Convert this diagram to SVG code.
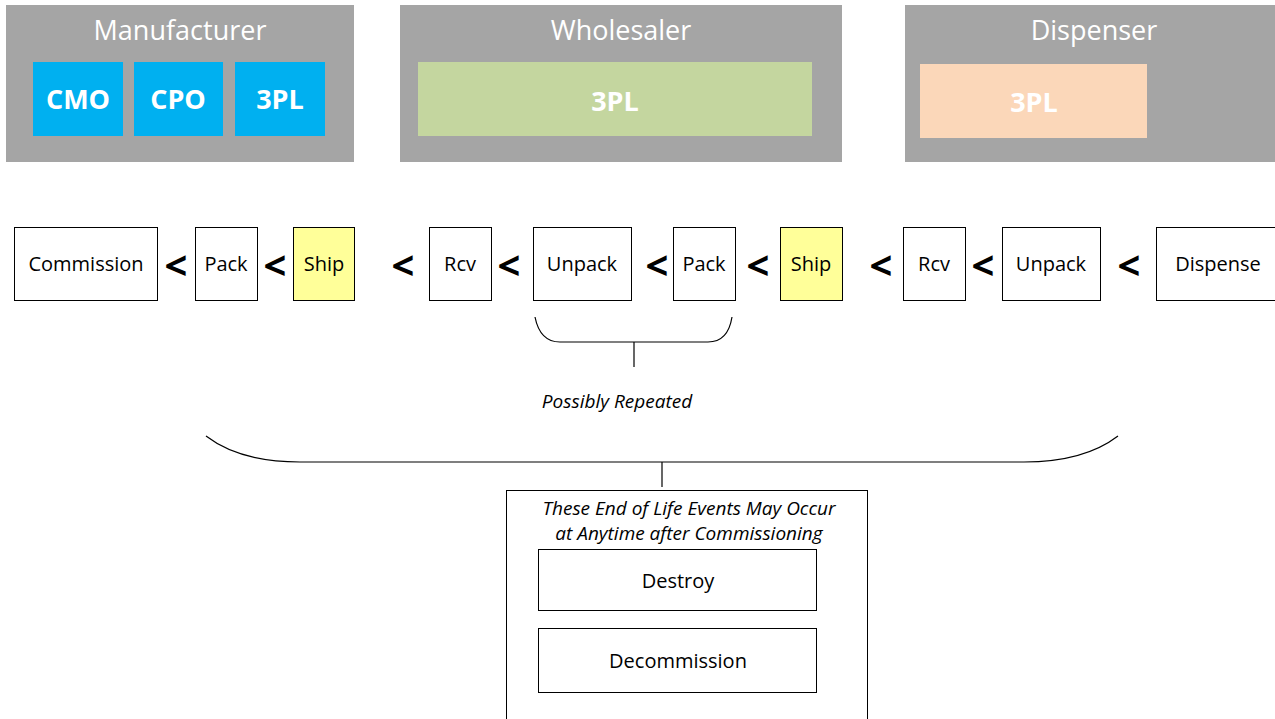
<svg xmlns="http://www.w3.org/2000/svg" width="1275" height="719" viewBox="0 0 1275 719">
<style>
  .grp { fill: #a5a5a5; }
  .title { font-family: "Open Sans", "Liberation Sans", sans-serif; font-size: 27px; fill: #ffffff; text-anchor: middle; }
  .role { font-family: "Open Sans", "Liberation Sans", sans-serif; font-size: 27px; font-weight: bold; fill: #ffffff; text-anchor: middle; }
  .step { fill: #ffffff; stroke: #000000; stroke-width: 1; }
  .ship { fill: #ffff99; stroke: #000000; stroke-width: 1; }
  .lbl { font-family: "Open Sans", "Liberation Sans", sans-serif; font-size: 20px; fill: #000000; text-anchor: middle; }
  .lt { font-family: "Open Sans", "Liberation Sans", sans-serif; font-size: 40px; font-weight: bold; fill: #000000; text-anchor: middle; }
  .note { font-family: "Open Sans", "Liberation Sans", sans-serif; font-size: 19px; font-style: italic; fill: #000000; text-anchor: middle; }
  .brace { fill: none; stroke: #000000; stroke-width: 1.2; }
</style>

<g id="manufacturer">
  <rect class="grp" x="6" y="5" width="348" height="157"/>
  <text class="title" x="180" y="40">Manufacturer</text>
  <rect x="33" y="62" width="90" height="74" fill="#00b0f0"/>
  <text class="role" x="78" y="109">CMO</text>
  <rect x="134" y="62" width="89" height="74" fill="#00b0f0"/>
  <text class="role" x="178" y="109">CPO</text>
  <rect x="235" y="62" width="90" height="74" fill="#00b0f0"/>
  <text class="role" x="280" y="109">3PL</text>
</g>

<g id="wholesaler">
  <rect class="grp" x="400" y="5" width="442" height="157"/>
  <text class="title" x="621" y="40">Wholesaler</text>
  <rect x="418" y="62" width="394" height="74" fill="#c4d69f"/>
  <text class="role" x="615" y="111">3PL</text>
</g>

<g id="dispenser">
  <rect class="grp" x="905" y="5" width="375" height="157"/>
  <text class="title" x="1094" y="40">Dispenser</text>
  <rect x="920" y="64" width="227" height="74" fill="#fbd7b9"/>
  <text class="role" x="1034" y="112">3PL</text>
</g>

<g id="commission"><rect class="step" x="14.5" y="227.5" width="143" height="73"/><text class="lbl" x="86" y="271">Commission</text></g>
<g id="pack1"><rect class="step" x="195.5" y="227.5" width="62" height="73"/><text class="lbl" x="226" y="271">Pack</text></g>
<g id="ship1"><rect class="ship" x="293.5" y="227.5" width="61" height="73"/><text class="lbl" x="324" y="271">Ship</text></g>
<g id="rcv1"><rect class="step" x="429.5" y="227.5" width="62" height="73"/><text class="lbl" x="460" y="271">Rcv</text></g>
<g id="unpack1"><rect class="step" x="533.5" y="227.5" width="98" height="73"/><text class="lbl" x="582" y="271">Unpack</text></g>
<g id="pack2"><rect class="step" x="673.5" y="227.5" width="62" height="73"/><text class="lbl" x="704" y="271">Pack</text></g>
<g id="ship2"><rect class="ship" x="780.5" y="227.5" width="62" height="73"/><text class="lbl" x="811" y="271">Ship</text></g>
<g id="rcv2"><rect class="step" x="903.5" y="227.5" width="62" height="73"/><text class="lbl" x="934" y="271">Rcv</text></g>
<g id="unpack2"><rect class="step" x="1002.5" y="227.5" width="98" height="73"/><text class="lbl" x="1051" y="271">Unpack</text></g>
<g id="dispense"><rect class="step" x="1156.5" y="227.5" width="130" height="73"/><text class="lbl" x="1218" y="271">Dispense</text></g>

<g id="connectors">
  <text class="lt" x="176" y="280">&lt;</text>
  <text class="lt" x="275" y="280">&lt;</text>
  <text class="lt" x="403" y="280">&lt;</text>
  <text class="lt" x="509" y="280">&lt;</text>
  <text class="lt" x="657" y="280">&lt;</text>
  <text class="lt" x="758" y="280">&lt;</text>
  <text class="lt" x="881" y="280">&lt;</text>
  <text class="lt" x="983" y="280">&lt;</text>
  <text class="lt" x="1129" y="280">&lt;</text>
  <path class="brace" d="M535,317 Q540,342 560,342 L708,342 Q728,342 732,317"/>
  <line class="brace" x1="634" y1="342" x2="634" y2="367"/>
  <path class="brace" d="M206,436 Q240,462 300,462 L1024,462 Q1084,462 1118,436"/>
  <line class="brace" x1="662" y1="462" x2="662" y2="487"/>
</g>

<g id="possibly-repeated">
  <text class="note" x="617" y="408">Possibly Repeated</text>
</g>

<g id="end-of-life">
  <rect class="step" x="506.5" y="490.5" width="361" height="240"/>
  <text class="note" x="689" y="515">These End of Life Events May Occur</text>
  <text class="note" x="689" y="540">at Anytime after Commissioning</text>
</g>
<g id="destroy"><rect class="step" x="538.5" y="549.5" width="278" height="61"/><text class="lbl" x="678" y="588">Destroy</text></g>
<g id="decommission"><rect class="step" x="538.5" y="628.5" width="278" height="64"/><text class="lbl" x="678" y="668">Decommission</text></g>
</svg>
